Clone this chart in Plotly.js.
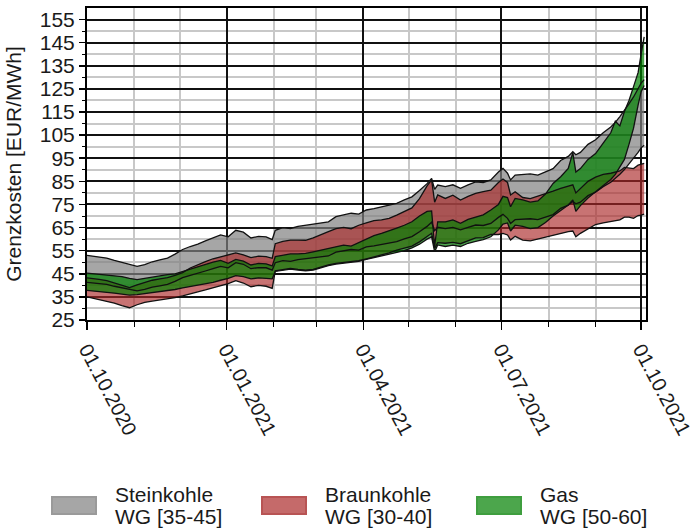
<!DOCTYPE html>
<html>
<head>
<meta charset="utf-8">
<script src="https://cdn.plot.ly/plotly-3.0.1.min.js"></script>
<style>html,body{margin:0;padding:0;background:#fff;}#chart{width:694px;height:530px;}</style>
</head>
<body>
<div id="chart"></div>
<script>
const dates = ["2020-10-01","2020-10-05","2020-10-09","2020-10-14","2020-10-19","2020-10-24","2020-10-29","2020-11-03","2020-11-08","2020-11-13","2020-11-18","2020-11-23","2020-11-28","2020-12-03","2020-12-08","2020-12-13","2020-12-18","2020-12-23","2020-12-28","2021-01-02","2021-01-07","2021-01-12","2021-01-17","2021-01-22","2021-01-27","2021-01-31","2021-02-02","2021-02-07","2021-02-12","2021-02-17","2021-02-22","2021-02-27","2021-03-04","2021-03-09","2021-03-14","2021-03-19","2021-03-24","2021-03-29","2021-04-03","2021-04-08","2021-04-13","2021-04-18","2021-04-23","2021-04-28","2021-05-03","2021-05-08","2021-05-13","2021-05-16","2021-05-18","2021-05-20","2021-05-25","2021-05-30","2021-06-04","2021-06-09","2021-06-14","2021-06-19","2021-06-24","2021-06-29","2021-07-02","2021-07-05","2021-07-07","2021-07-10","2021-07-15","2021-07-20","2021-07-25","2021-07-30","2021-08-04","2021-08-09","2021-08-14","2021-08-17","2021-08-19","2021-08-22","2021-08-27","2021-09-01","2021-09-06","2021-09-11","2021-09-14","2021-09-17","2021-09-20","2021-09-23","2021-09-26","2021-09-29","2021-10-01","2021-10-03"];

const steinkohleHigh = [53.0,52.6,52.3,51.8,50.8,50.0,49.0,48.2,49.0,50.2,51.0,51.8,53.5,55.5,56.8,57.8,59.2,60.5,61.8,61.0,63.8,63.0,60.5,61.2,61.0,59.8,63.8,65.0,64.6,65.5,66.0,66.5,67.3,67.5,69.7,70.4,71.2,70.8,72.6,73.2,74.0,74.8,75.5,77.0,78.3,81.0,84.0,86.3,81.5,83.4,82.7,83.5,82.0,83.5,84.8,84.5,85.6,89.0,90.6,88.5,85.6,87.7,88.0,88.2,87.7,89.0,90.5,94.0,95.8,97.8,96.5,97.5,101.0,103.0,106.0,108.5,110.5,113.0,115.5,118.5,121.5,125.0,127.5,129.0];
const steinkohleLow = [41.3,41.0,40.8,40.4,39.6,39.0,38.2,37.6,38.2,39.2,39.8,40.4,41.7,43.3,44.3,45.1,46.2,47.2,48.2,47.6,49.8,49.1,47.2,47.7,47.6,46.6,49.8,50.7,50.4,51.1,51.5,51.9,52.5,52.7,54.4,54.9,55.5,55.2,56.6,57.1,57.7,58.3,58.9,60.1,61.1,63.2,65.5,67.3,63.6,65.1,64.5,65.1,64.0,65.1,66.1,65.9,66.8,69.4,70.7,69.0,66.8,68.4,68.6,68.8,68.4,69.4,70.6,73.3,74.7,76.3,75.3,76.0,78.8,80.3,82.7,84.6,86.2,88.1,90.1,92.4,94.8,97.5,99.5,100.6];
const braunkohleHigh = [43.2,43.0,42.6,42.0,41.0,40.0,39.0,40.2,41.3,42.2,42.8,43.3,44.3,45.5,47.5,49.0,50.3,51.5,52.3,53.0,54.0,53.2,52.0,52.6,52.4,51.7,58.0,59.0,59.6,59.6,59.5,60.5,62.0,63.2,64.5,65.1,64.5,66.0,67.0,68.0,68.3,69.0,70.4,71.8,73.5,77.5,83.0,85.6,76.0,79.1,77.6,79.0,76.9,78.5,79.8,80.5,81.2,84.5,86.0,84.5,79.1,80.5,78.0,77.5,78.5,79.8,80.8,82.0,83.0,83.5,80.0,82.0,85.0,86.8,88.0,88.5,89.0,89.5,91.0,90.8,90.5,92.0,92.5,92.8];
const braunkohleLow = [35.0,34.4,33.9,33.2,32.3,31.2,30.3,31.6,32.6,33.2,33.7,34.0,34.7,35.4,36.4,37.2,38.0,38.9,39.7,40.7,42.0,41.0,39.4,40.0,39.6,38.7,46.3,46.9,47.3,46.9,46.6,46.9,47.9,48.8,49.5,49.9,50.1,50.7,51.5,52.3,53.2,54.0,55.2,56.0,57.0,58.8,61.0,62.5,56.0,58.5,58.2,58.6,58.0,59.2,60.5,60.6,62.0,62.0,62.5,61.8,59.6,61.2,59.6,59.2,60.0,61.0,61.7,62.5,63.2,63.5,61.0,62.5,64.5,66.3,67.0,67.5,67.8,68.3,69.5,69.5,69.0,70.2,70.4,70.8];
const gasHigh = [45.3,45.0,44.8,44.5,44.2,43.8,43.0,42.5,43.0,43.6,44.2,44.6,45.0,46.0,47.2,48.3,49.2,50.0,50.8,49.5,51.2,50.5,48.8,49.5,49.3,48.4,52.4,53.0,53.6,53.6,53.8,54.5,55.2,56.0,56.6,57.4,57.0,58.5,60.0,61.5,62.5,63.5,64.8,66.0,67.5,70.0,72.0,72.2,57.0,67.5,67.5,68.3,66.8,68.5,69.5,70.5,72.6,75.0,78.5,78.0,74.0,77.6,77.0,76.0,76.5,79.5,84.1,87.0,90.6,97.4,89.0,90.5,94.5,97.0,101.5,106.0,111.0,109.0,115.2,120.0,126.0,132.0,140.0,147.5];
const gasLow = [37.8,37.6,37.3,37.0,36.6,36.2,35.8,36.0,36.4,36.8,37.2,37.6,38.2,38.9,39.5,40.0,40.6,41.3,42.2,43.0,44.2,43.8,42.8,43.2,43.0,42.8,46.0,46.6,47.0,46.6,46.3,46.6,47.6,48.5,49.2,49.6,49.8,50.4,51.2,52.0,52.5,53.3,54.2,55.0,56.2,57.8,60.0,61.0,54.5,57.5,56.8,57.4,56.8,58.2,59.0,59.8,61.0,64.0,66.5,67.0,63.5,66.0,65.5,64.5,65.0,67.2,70.0,72.6,74.8,77.0,72.0,74.5,77.8,80.5,83.0,85.8,88.0,91.3,94.5,101.0,108.0,118.0,123.8,126.5];

const xTickVals = ["2020-10-01","2021-01-01","2021-04-01","2021-07-01","2021-10-01"];
const xTickText = ["01.10.2020","01.01.2021","01.04.2021","01.07.2021","01.10.2021"];
const xMinorVals = ["2020-11-01","2020-12-01","2021-02-01","2021-03-01","2021-05-01","2021-06-01","2021-08-01","2021-09-01"];
const yTickVals = [25,35,45,55,65,75,85,95,105,115,125,135,145,155];
const yMinorVals = [30,40,50,60,70,80,90,100,110,120,130,140,150];
const legendNames = [["Steinkohle","WG [35-45]"],["Braunkohle","WG [30-40]"],["Gas","WG [50-60]"]];

const fills = ['rgba(128,128,128,0.7)','rgba(170,40,40,0.65)','rgba(0,128,0,0.7)'];
const swatchFill = ['#a6a6a6','#c56a6a','#4ca64c'];
const swatchLine = ['#9a9a9a','#b85454','#3f9e3f'];
const bands = [[steinkohleLow, steinkohleHigh],[braunkohleLow, braunkohleHigh],[gasLow, gasHigh]];

const traces = [];
bands.forEach((b, i) => {
  traces.push({x: dates, y: b[0], type: 'scatter', mode: 'lines', line: {width: 0, color: 'rgba(0,0,0,0)'}, showlegend: false, hoverinfo: 'skip'});
  traces.push({x: dates, y: b[1], type: 'scatter', mode: 'lines', line: {width: 0, color: 'rgba(0,0,0,0)'}, fill: 'tonexty', fillcolor: fills[i], showlegend: false, hoverinfo: 'skip'});
});
bands.forEach((b) => {
  b.forEach((s) => {
    traces.push({x: dates, y: s, type: 'scatter', mode: 'lines', line: {color: '#111', width: 1.3}, showlegend: false, hoverinfo: 'skip'});
  });
});

const L = 87, R = 646, T = 8, B = 320;
const pw = R - L, ph = B - T;
const px = v => (v - L) / pw;
const py = v => (B - v) / ph;

const swX = [[52,96],[262,306],[477,521]];
const txX = [113,323,538];
const shapes = [], annotations = [];
legendNames.forEach((n, i) => {
  shapes.push({type: 'rect', xref: 'paper', yref: 'paper', x0: px(swX[i][0]), x1: px(swX[i][1]), y0: py(514), y1: py(497),
    fillcolor: swatchFill[i], line: {color: swatchLine[i], width: 2}});
  annotations.push({xref: 'paper', yref: 'paper', x: px(txX[i]), y: py(494), xanchor: 'left', yanchor: 'middle', showarrow: false,
    text: n[0], font: {size: 21, color: '#1a1a1a'}});
  annotations.push({xref: 'paper', yref: 'paper', x: px(txX[i]), y: py(516), xanchor: 'left', yanchor: 'middle', showarrow: false,
    text: n[1], font: {size: 21, color: '#1a1a1a'}});
});

const layout = {
  width: 694, height: 530,
  margin: {l: L, r: 694 - R, t: T, b: 530 - B},
  paper_bgcolor: '#fff', plot_bgcolor: '#fff',
  font: {family: '"Liberation Sans", Arial, sans-serif', color: '#1a1a1a', size: 21},
  showlegend: false,
  xaxis: {
    type: 'date', range: ['2020-10-01', '2021-10-04 05:00'],
    tickmode: 'array', tickvals: xTickVals, ticktext: xTickText, tickangle: 62,
    ticklabeloverflow: 'allow',
    ticks: 'outside', ticklen: 8, tickwidth: 1.5, tickcolor: '#000',
    showgrid: true, gridcolor: '#111', gridwidth: 2,
    minor: {tickmode: 'array', tickvals: xMinorVals, ticks: 'outside', ticklen: 5, tickcolor: '#000', tickwidth: 1,
      showgrid: true, gridcolor: '#c8c8c8', gridwidth: 2},
    showline: true, linecolor: '#000', linewidth: 2, mirror: true, zeroline: false,
    tickfont: {size: 20}
  },
  yaxis: {
    range: [25, 160],
    tickmode: 'array', tickvals: yTickVals,
    ticks: 'outside', ticklen: 6, tickwidth: 1.5, tickcolor: '#000',
    showgrid: true, gridcolor: '#111', gridwidth: 2,
    minor: {tickmode: 'array', tickvals: yMinorVals, ticks: 'outside', ticklen: 3, tickcolor: '#000', tickwidth: 1,
      showgrid: true, gridcolor: '#c8c8c8', gridwidth: 2},
    showline: true, linecolor: '#000', linewidth: 2, mirror: true, zeroline: false,
    tickfont: {size: 21},
    title: {text: 'Grenzkosten [EUR/MWh]', font: {size: 21}, standoff: 12}
  },
  shapes: shapes,
  annotations: annotations
};

Plotly.newPlot('chart', traces, layout, {displayModeBar: false, staticPlot: true});
</script>
</body>
</html>
